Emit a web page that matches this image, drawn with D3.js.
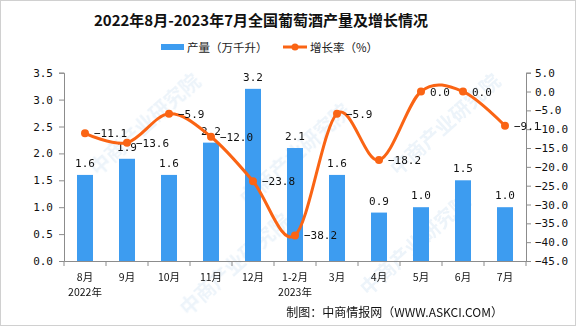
<!DOCTYPE html>
<html><head><meta charset="utf-8">
<script src="https://cdn.jsdelivr.net/npm/d3@7"></script>
<style>body{margin:0;background:#fff}svg{display:block}</style>
</head><body><svg id="c" width="576" height="326"></svg>
<script>
const categories = ["8月","9月","10月","11月","12月","1-2月","3月","4月","5月","6月","7月"];
const yearLabels = ["2022年","","","","","2023年","","","","",""];
const production = [1.6,1.9,1.6,2.2,3.2,2.1,1.6,0.9,1.0,1.5,1.0];
const growth = [-11.1,-13.6,-5.9,-12.0,-23.8,-38.2,-5.9,-18.2,0.0,0.0,-9.1];
const leftTicks = [0,0.5,1.0,1.5,2.0,2.5,3.0,3.5];
const rightTicks = [5,0,-5,-10,-15,-20,-25,-30,-35,-40,-45];

const svg = d3.select("#c");
const W=576,H=326;
const mono = "'DejaVu Sans Mono','Liberation Mono',monospace";
const cjk = "'Noto Sans CJK SC','Noto Sans',sans-serif";
const blue="#3d9cf0", orange="#fa6414", axisC="#8c8c8c";

svg.append("rect").attr("x",0.5).attr("y",0.5).attr("width",W-1).attr("height",H-1).attr("fill","#fff").attr("stroke","#d0d0d0");

// watermark
const wm = svg.append("g").attr("opacity",0.45);
[[150,130],[300,160],[450,130],[240,270],[420,250]].forEach(p=>{
  wm.append("text").attr("transform",`translate(${p[0]},${p[1]}) rotate(-42)`)
    .attr("font-family",cjk).attr("font-size",20).attr("font-weight","bold").attr("fill","#d6e6f4")
    .attr("text-anchor","middle").text("中商产业研究院");
});

const x0=64,x1=526,yT=72.7,yB=261;
const x = d3.scaleBand().domain(categories).range([x0,x1]).paddingInner(0).paddingOuter(0);
const yL = d3.scaleLinear().domain([0,3.5]).range([yB,yT]);
const yR = d3.scaleLinear().domain([-45,5]).range([yB,yT]);

// title
svg.append("text").attr("x",261).attr("y",26).attr("text-anchor","middle")
  .attr("font-family",cjk).attr("font-weight","bold").attr("font-size",15).attr("fill","#111")
  .text("2022年8月-2023年7月全国葡萄酒产量及增长情况");

// legend
const lg = svg.append("g");
lg.append("rect").attr("x",161).attr("y",44).attr("width",23).attr("height",6).attr("fill",blue);
lg.append("text").attr("x",187).attr("y",51.5).attr("font-family",cjk).attr("font-size",11.5).attr("fill","#222").text("产量（万千升）");
lg.append("line").attr("x1",283).attr("x2",307).attr("y1",47).attr("y2",47).attr("stroke",orange).attr("stroke-width",3);
lg.append("circle").attr("cx",295).attr("cy",47).attr("r",3.5).attr("fill",orange);
lg.append("text").attr("x",310).attr("y",51.5).attr("font-family",cjk).attr("font-size",11.5).attr("fill","#222").text("增长率（%）");

// axes
const fmt = d3.format(".1f");
const gl = svg.append("g").attr("transform",`translate(${x0},0)`)
  .call(d3.axisLeft(yL).tickValues(leftTicks).tickFormat(fmt).tickSize(5).tickPadding(6));
const gr = svg.append("g").attr("transform",`translate(${x1},0)`)
  .call(d3.axisRight(yR).tickValues(rightTicks).tickFormat(fmt).tickSize(5).tickPadding(4));
const gb = svg.append("g").attr("transform",`translate(0,${yB})`)
  .call(d3.axisBottom(x).tickSize(0).tickFormat(""));
[gl,gr,gb].forEach(g=>{
  g.selectAll("path.domain").attr("stroke",axisC);
  g.selectAll(".tick line").attr("stroke",axisC);
  g.selectAll("text").attr("font-family",mono).attr("font-size",11).attr("fill","#111");
});
// bottom ticks at band boundaries
const bounds = categories.map(c=>x(c)).concat([x1]);
gb.selectAll("line.bt").data(bounds).join("line").attr("class","bt")
  .attr("x1",d=>d).attr("x2",d=>d).attr("y1",0).attr("y2",5).attr("stroke",axisC);
// category labels
svg.append("g").selectAll("text").data(categories).join("text")
  .attr("x",d=>x(d)+x.bandwidth()/2).attr("y",280.5).attr("text-anchor","middle")
  .attr("font-family",cjk).attr("font-size",10.5).attr("fill","#111").text(d=>d);
svg.append("g").selectAll("text").data(yearLabels.map((t,i)=>({t,c:categories[i]})).filter(d=>d.t)).join("text")
  .attr("x",d=>x(d.c)+x.bandwidth()/2).attr("y",296).attr("text-anchor","middle")
  .attr("font-family",cjk).attr("font-size",10.5).attr("fill","#111").text(d=>d.t);

// bars
const bw=16;
svg.append("g").selectAll("rect").data(production).join("rect")
  .attr("x",(d,i)=>x(categories[i])+x.bandwidth()/2-bw/2).attr("width",bw)
  .attr("y",d=>yL(d)).attr("height",d=>yB-yL(d)).attr("fill",blue);
svg.append("g").selectAll("text").data(production).join("text")
  .attr("x",(d,i)=>x(categories[i])+x.bandwidth()/2).attr("y",d=>yL(d)-8)
  .attr("text-anchor","middle").attr("font-family",mono).attr("font-size",11).attr("fill","#111").text(fmt);

// line
const line = d3.line().x((d,i)=>x(categories[i])+x.bandwidth()/2).y(d=>yR(d)).curve(d3.curveCardinal.tension(0));
svg.append("path").datum(growth).attr("d",line).attr("fill","none").attr("stroke",orange).attr("stroke-width",3);
svg.append("g").selectAll("circle").data(growth).join("circle")
  .attr("cx",(d,i)=>x(categories[i])+x.bandwidth()/2).attr("cy",d=>yR(d)).attr("r",4).attr("fill",orange);
svg.append("g").selectAll("text").data(growth).join("text")
  .attr("x",(d,i)=>x(categories[i])+x.bandwidth()/2+9).attr("y",d=>yR(d)+4)
  .attr("font-family",mono).attr("font-size",11).attr("fill","#111").text(fmt);

// source
svg.append("text").attr("x",503).attr("y",317).attr("text-anchor","end")
  .attr("font-family",cjk).attr("font-size",12).attr("fill","#111").text("制图：中商情报网（WWW.ASKCI.COM）");
</script></body></html>
